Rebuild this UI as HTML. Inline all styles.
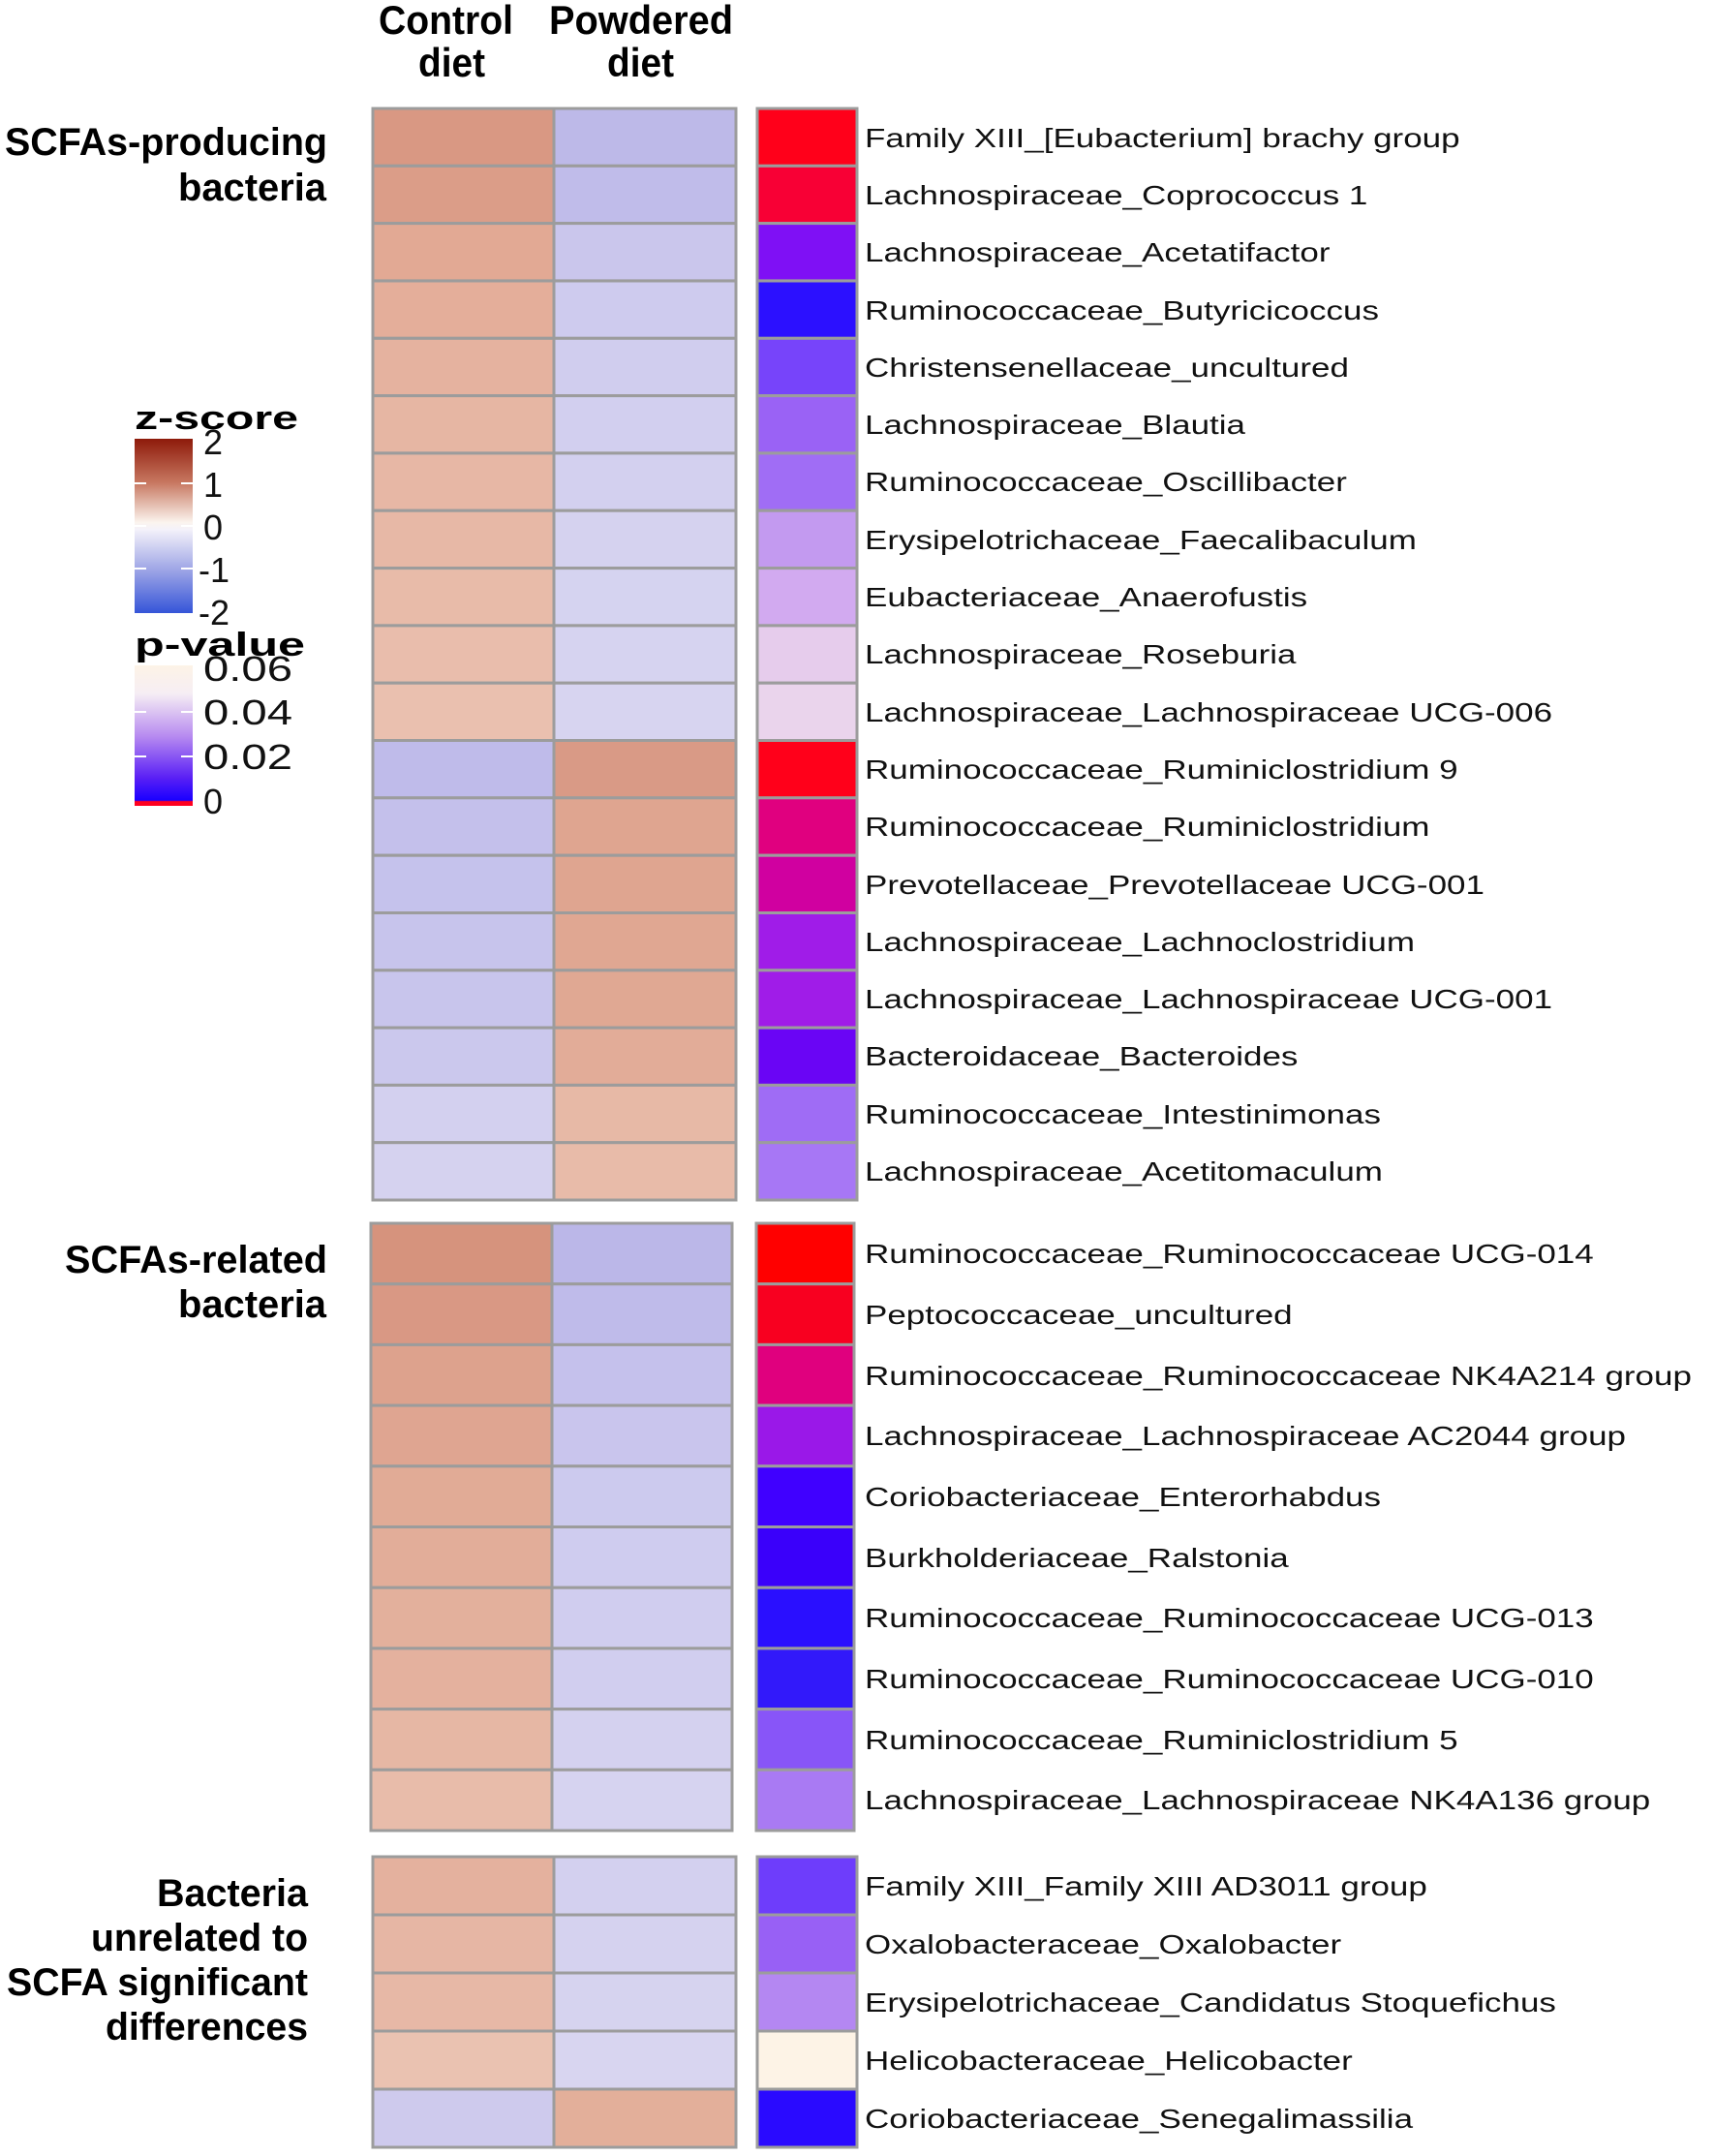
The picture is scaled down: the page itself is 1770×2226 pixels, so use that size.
<!DOCTYPE html>
<html><head><meta charset="utf-8"><style>html,body{margin:0;padding:0;background:#fff}svg{display:block}</style></head>
<body>
<svg xmlns="http://www.w3.org/2000/svg" width="1770" height="2226" viewBox="0 0 1770 2226">
<defs>
<linearGradient id="gz" x1="0" y1="0" x2="0" y2="1">
<stop offset="0" stop-color="#8e1a0a"/><stop offset="0.25" stop-color="#c77760"/><stop offset="0.48" stop-color="#fbf4ee"/><stop offset="0.52" stop-color="#f4f2fa"/><stop offset="0.75" stop-color="#9fa6e6"/><stop offset="1" stop-color="#3555d8"/>
</linearGradient>
<linearGradient id="gp" x1="0" y1="0" x2="0" y2="1">
<stop offset="0" stop-color="#fdf3e6"/><stop offset="0.2" stop-color="#f6eef4"/><stop offset="0.5" stop-color="#b88cf0"/><stop offset="0.8" stop-color="#5a20f5"/><stop offset="0.96" stop-color="#1a00ff"/><stop offset="0.97" stop-color="#ff0020"/><stop offset="1" stop-color="#ff0020"/>
</linearGradient>
</defs>
<g font-family="Liberation Sans, Arial, sans-serif" font-weight="bold" fill="#000">
<text x="391" y="35" font-size="42" textLength="139" lengthAdjust="spacingAndGlyphs">Control</text>
<text x="432" y="79" font-size="42" textLength="69" lengthAdjust="spacingAndGlyphs">diet</text>
<text x="567" y="35" font-size="42" textLength="190" lengthAdjust="spacingAndGlyphs">Powdered</text>
<text x="627" y="79" font-size="42" textLength="69" lengthAdjust="spacingAndGlyphs">diet</text>
<text x="5" y="160" font-size="40" textLength="333" lengthAdjust="spacingAndGlyphs">SCFAs-producing</text>
<text x="184" y="207" font-size="40" textLength="153" lengthAdjust="spacingAndGlyphs">bacteria</text>
<text x="67" y="1314" font-size="40" textLength="271" lengthAdjust="spacingAndGlyphs">SCFAs-related</text>
<text x="184" y="1360" font-size="40" textLength="153" lengthAdjust="spacingAndGlyphs">bacteria</text>
<text x="162" y="1968" font-size="40" textLength="156" lengthAdjust="spacingAndGlyphs">Bacteria</text>
<text x="94" y="2014" font-size="40" textLength="224" lengthAdjust="spacingAndGlyphs">unrelated to</text>
<text x="7" y="2060" font-size="40" textLength="311" lengthAdjust="spacingAndGlyphs">SCFA significant</text>
<text x="109" y="2106" font-size="40" textLength="209" lengthAdjust="spacingAndGlyphs">differences</text>
<text x="139" y="443" font-size="34" textLength="169" lengthAdjust="spacingAndGlyphs">z-score</text>
<text x="139" y="677" font-size="34" textLength="176" lengthAdjust="spacingAndGlyphs">p-value</text>
</g>
<rect x="139" y="453" width="60" height="180" fill="url(#gz)"/>
<rect x="139" y="687" width="60" height="145" fill="url(#gp)"/>
<g stroke="#fff" stroke-width="2" stroke-dasharray="12 36">
<line x1="139" y1="499" x2="199" y2="499"/><line x1="139" y1="543" x2="199" y2="543"/><line x1="139" y1="587" x2="199" y2="587"/>
<line x1="139" y1="735" x2="199" y2="735"/><line x1="139" y1="781" x2="199" y2="781"/>
</g>
<g font-family="Liberation Sans, Arial, sans-serif" font-size="36" fill="#111">
<text x="210" y="469">2</text><text x="210" y="513">1</text><text x="210" y="557">0</text><text x="205" y="601">-1</text><text x="205" y="645">-2</text>
<text x="210" y="703" textLength="92" lengthAdjust="spacingAndGlyphs">0.06</text>
<text x="210" y="748" textLength="92" lengthAdjust="spacingAndGlyphs">0.04</text>
<text x="210" y="794" textLength="92" lengthAdjust="spacingAndGlyphs">0.02</text>
<text x="210" y="840">0</text>
</g>
<g stroke="#9c9c9c" stroke-width="3">
<rect x="385" y="112" width="187" height="59.3" fill="#d99883"/><rect x="572" y="112" width="188" height="59.3" fill="#bdb9e8"/><rect x="782" y="112" width="103" height="59.3" fill="#ff001a"/>
<rect x="385" y="171.3" width="187" height="59.3" fill="#db9d88"/><rect x="572" y="171.3" width="188" height="59.3" fill="#c0bcea"/><rect x="782" y="171.3" width="103" height="59.3" fill="#f80035"/>
<rect x="385" y="230.6" width="187" height="59.3" fill="#e2a994"/><rect x="572" y="230.6" width="188" height="59.3" fill="#cac6ec"/><rect x="782" y="230.6" width="103" height="59.3" fill="#7f10f5"/>
<rect x="385" y="290" width="187" height="59.3" fill="#e4ae9a"/><rect x="572" y="290" width="188" height="59.3" fill="#cecbee"/><rect x="782" y="290" width="103" height="59.3" fill="#2c10ff"/>
<rect x="385" y="349.3" width="187" height="59.3" fill="#e5b29f"/><rect x="572" y="349.3" width="188" height="59.3" fill="#d0cdee"/><rect x="782" y="349.3" width="103" height="59.3" fill="#7744fa"/>
<rect x="385" y="408.6" width="187" height="59.3" fill="#e6b6a3"/><rect x="572" y="408.6" width="188" height="59.3" fill="#d2cfef"/><rect x="782" y="408.6" width="103" height="59.3" fill="#9a62f5"/>
<rect x="385" y="467.9" width="187" height="59.3" fill="#e7b7a5"/><rect x="572" y="467.9" width="188" height="59.3" fill="#d3d0ef"/><rect x="782" y="467.9" width="103" height="59.3" fill="#a06df5"/>
<rect x="385" y="527.2" width="187" height="59.3" fill="#e7b8a6"/><rect x="572" y="527.2" width="188" height="59.3" fill="#d5d2ef"/><rect x="782" y="527.2" width="103" height="59.3" fill="#c39af0"/>
<rect x="385" y="586.6" width="187" height="59.3" fill="#e8bba9"/><rect x="572" y="586.6" width="188" height="59.3" fill="#d5d3f0"/><rect x="782" y="586.6" width="103" height="59.3" fill="#d2aaf0"/>
<rect x="385" y="645.9" width="187" height="59.3" fill="#e9bdac"/><rect x="572" y="645.9" width="188" height="59.3" fill="#d6d3f0"/><rect x="782" y="645.9" width="103" height="59.3" fill="#e6ccec"/>
<rect x="385" y="705.2" width="187" height="59.3" fill="#eac0af"/><rect x="572" y="705.2" width="188" height="59.3" fill="#d7d4f0"/><rect x="782" y="705.2" width="103" height="59.3" fill="#ead4ec"/>
<rect x="385" y="764.5" width="187" height="59.3" fill="#bfbbea"/><rect x="572" y="764.5" width="188" height="59.3" fill="#d99a86"/><rect x="782" y="764.5" width="103" height="59.3" fill="#ff001a"/>
<rect x="385" y="823.8" width="187" height="59.3" fill="#c4c0eb"/><rect x="572" y="823.8" width="188" height="59.3" fill="#dfa590"/><rect x="782" y="823.8" width="103" height="59.3" fill="#e0007f"/>
<rect x="385" y="883.2" width="187" height="59.3" fill="#c5c2ec"/><rect x="572" y="883.2" width="188" height="59.3" fill="#dfa590"/><rect x="782" y="883.2" width="103" height="59.3" fill="#d000a0"/>
<rect x="385" y="942.5" width="187" height="59.3" fill="#c7c4ec"/><rect x="572" y="942.5" width="188" height="59.3" fill="#e0a792"/><rect x="782" y="942.5" width="103" height="59.3" fill="#a01ce8"/>
<rect x="385" y="1001.8" width="187" height="59.3" fill="#c8c5ec"/><rect x="572" y="1001.8" width="188" height="59.3" fill="#e0a893"/><rect x="782" y="1001.8" width="103" height="59.3" fill="#a01ce8"/>
<rect x="385" y="1061.1" width="187" height="59.3" fill="#cbc8ed"/><rect x="572" y="1061.1" width="188" height="59.3" fill="#e2ac98"/><rect x="782" y="1061.1" width="103" height="59.3" fill="#6a05f5"/>
<rect x="385" y="1120.4" width="187" height="59.3" fill="#d3d0ef"/><rect x="572" y="1120.4" width="188" height="59.3" fill="#e7b9a6"/><rect x="782" y="1120.4" width="103" height="59.3" fill="#9f6cf5"/>
<rect x="385" y="1179.7" width="187" height="59.3" fill="#d5d2ef"/><rect x="572" y="1179.7" width="188" height="59.3" fill="#e8bba9"/><rect x="782" y="1179.7" width="103" height="59.3" fill="#a777f5"/>
<rect x="383" y="1263" width="187" height="62.7" fill="#d6937d"/><rect x="570" y="1263" width="186" height="62.7" fill="#bbb7e8"/><rect x="781" y="1263" width="101" height="62.7" fill="#ff0000"/>
<rect x="383" y="1325.7" width="187" height="62.7" fill="#d99884"/><rect x="570" y="1325.7" width="186" height="62.7" fill="#bfbbea"/><rect x="781" y="1325.7" width="101" height="62.7" fill="#f80020"/>
<rect x="383" y="1388.4" width="187" height="62.7" fill="#dda28d"/><rect x="570" y="1388.4" width="186" height="62.7" fill="#c5c1ec"/><rect x="781" y="1388.4" width="101" height="62.7" fill="#e0007e"/>
<rect x="383" y="1451.1" width="187" height="62.7" fill="#dfa591"/><rect x="570" y="1451.1" width="186" height="62.7" fill="#c9c5ed"/><rect x="781" y="1451.1" width="101" height="62.7" fill="#9a18e8"/>
<rect x="383" y="1513.8" width="187" height="62.7" fill="#e1ab96"/><rect x="570" y="1513.8" width="186" height="62.7" fill="#cccaee"/><rect x="781" y="1513.8" width="101" height="62.7" fill="#4000ff"/>
<rect x="383" y="1576.5" width="187" height="62.7" fill="#e2ad99"/><rect x="570" y="1576.5" width="186" height="62.7" fill="#cfccef"/><rect x="781" y="1576.5" width="101" height="62.7" fill="#3a00fa"/>
<rect x="383" y="1639.2" width="187" height="62.7" fill="#e3b09c"/><rect x="570" y="1639.2" width="186" height="62.7" fill="#d0cdef"/><rect x="781" y="1639.2" width="101" height="62.7" fill="#2a0fff"/>
<rect x="383" y="1701.9" width="187" height="62.7" fill="#e4b19e"/><rect x="570" y="1701.9" width="186" height="62.7" fill="#d1ceef"/><rect x="781" y="1701.9" width="101" height="62.7" fill="#3219fa"/>
<rect x="383" y="1764.6" width="187" height="62.7" fill="#e6b7a4"/><rect x="570" y="1764.6" width="186" height="62.7" fill="#d4d1ef"/><rect x="781" y="1764.6" width="101" height="62.7" fill="#8855f8"/>
<rect x="383" y="1827.3" width="187" height="62.7" fill="#e8bcaa"/><rect x="570" y="1827.3" width="186" height="62.7" fill="#d6d3f0"/><rect x="781" y="1827.3" width="101" height="62.7" fill="#a97af3"/>
<rect x="385" y="1917" width="187" height="60" fill="#e4b19e"/><rect x="572" y="1917" width="188" height="60" fill="#d3d0ef"/><rect x="782" y="1917" width="103" height="60" fill="#6e3dfb"/>
<rect x="385" y="1977" width="187" height="60" fill="#e6b6a4"/><rect x="572" y="1977" width="188" height="60" fill="#d5d2ef"/><rect x="782" y="1977" width="103" height="60" fill="#9860f5"/>
<rect x="385" y="2037" width="187" height="60" fill="#e7b8a6"/><rect x="572" y="2037" width="188" height="60" fill="#d6d3ef"/><rect x="782" y="2037" width="103" height="60" fill="#b487f2"/>
<rect x="385" y="2097" width="187" height="60" fill="#eac2b1"/><rect x="572" y="2097" width="188" height="60" fill="#d8d5f0"/><rect x="782" y="2097" width="103" height="60" fill="#fdf3e6"/>
<rect x="385" y="2157" width="187" height="60" fill="#cecaed"/><rect x="572" y="2157" width="188" height="60" fill="#e3af9a"/><rect x="782" y="2157" width="103" height="60" fill="#2a0aff"/>
</g>
<g font-family="Liberation Sans, Arial, sans-serif" font-size="28" fill="#111">
<g transform="translate(893,0) scale(1.25,1)">
<text y="152">Family XIII_[Eubacterium] brachy group</text>
<text y="211">Lachnospiraceae_Coprococcus 1</text>
<text y="270">Lachnospiraceae_Acetatifactor</text>
<text y="330">Ruminococcaceae_Butyricicoccus</text>
<text y="389">Christensenellaceae_uncultured</text>
<text y="448">Lachnospiraceae_Blautia</text>
<text y="507">Ruminococcaceae_Oscillibacter</text>
<text y="567">Erysipelotrichaceae_Faecalibaculum</text>
<text y="626">Eubacteriaceae_Anaerofustis</text>
<text y="685">Lachnospiraceae_Roseburia</text>
<text y="745">Lachnospiraceae_Lachnospiraceae UCG-006</text>
<text y="804">Ruminococcaceae_Ruminiclostridium 9</text>
<text y="863">Ruminococcaceae_Ruminiclostridium</text>
<text y="923">Prevotellaceae_Prevotellaceae UCG-001</text>
<text y="982">Lachnospiraceae_Lachnoclostridium</text>
<text y="1041">Lachnospiraceae_Lachnospiraceae UCG-001</text>
<text y="1100">Bacteroidaceae_Bacteroides</text>
<text y="1160">Ruminococcaceae_Intestinimonas</text>
<text y="1219">Lachnospiraceae_Acetitomaculum</text>
<text y="1304">Ruminococcaceae_Ruminococcaceae UCG-014</text>
<text y="1367">Peptococcaceae_uncultured</text>
<text y="1430">Ruminococcaceae_Ruminococcaceae NK4A214 group</text>
<text y="1492">Lachnospiraceae_Lachnospiraceae AC2044 group</text>
<text y="1555">Coriobacteriaceae_Enterorhabdus</text>
<text y="1618">Burkholderiaceae_Ralstonia</text>
<text y="1680">Ruminococcaceae_Ruminococcaceae UCG-013</text>
<text y="1743">Ruminococcaceae_Ruminococcaceae UCG-010</text>
<text y="1806">Ruminococcaceae_Ruminiclostridium 5</text>
<text y="1868">Lachnospiraceae_Lachnospiraceae NK4A136 group</text>
<text y="1957">Family XIII_Family XIII AD3011 group</text>
<text y="2017">Oxalobacteraceae_Oxalobacter</text>
<text y="2077">Erysipelotrichaceae_Candidatus Stoquefichus</text>
<text y="2137">Helicobacteraceae_Helicobacter</text>
<text y="2197">Coriobacteriaceae_Senegalimassilia</text>
</g>
</g>
</svg>
</body></html>
